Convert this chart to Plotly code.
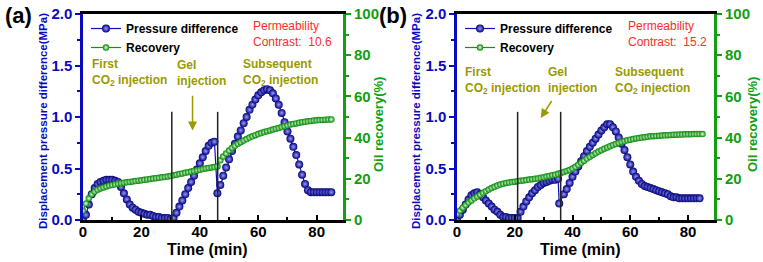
import plotly.graph_objects as go

# ---------------- data ----------------
time_a_p = [0,1,2,3,4,5,6,7,8,9,10,11,12,13,14,15,16,17,18,19,20,21,22,23,24,25,26,27,28,29,
            30,31,32,33,34,35,36,37,38,39,40,41,42,43,44,45,46,47,48,49,50,51,52,53,54,55,56,57,58,59,
            60,61,62,63,64,65,66,67,68,69,70,71,72,73,74,75,76,77,78,79,80,81,82,83,84,85]
pressure_a = [0.00,0.05,0.15,0.25,0.31,0.35,0.37,0.38,0.39,0.39,0.39,0.38,0.37,0.32,0.26,0.20,0.15,0.12,0.10,0.08,
              0.07,0.06,0.05,0.05,0.04,0.03,0.03,0.02,0.02,0.02,0.01,0.02,0.07,0.13,0.19,0.25,0.31,0.37,0.43,0.49,
              0.55,0.61,0.67,0.72,0.75,0.76,0.26,0.34,0.43,0.51,0.59,0.67,0.74,0.81,0.87,0.94,1.00,1.07,1.12,1.17,
              1.21,1.24,1.26,1.27,1.26,1.23,1.18,1.12,1.04,0.95,0.86,0.79,0.71,0.63,0.54,0.44,0.35,0.29,0.27,0.27,
              0.27,0.27,0.27,0.27,0.27,0.27]
time_a_r = time_a_p
recovery_a = [4.5,8.0,10.5,12.5,13.8,14.7,15.3,15.8,16.3,16.7,17.0,17.3,17.6,17.9,18.1,18.3,18.5,18.7,18.9,19.1,
              19.3,19.5,19.7,19.9,20.1,20.3,20.5,20.7,20.9,21.1,21.4,21.7,22.0,22.3,22.6,22.9,23.2,23.5,23.8,24.1,
              24.4,24.7,25.0,25.3,25.5,25.7,26.0,29.0,30.8,32.3,33.7,35.0,36.0,37.0,37.8,38.6,39.3,40.0,40.6,41.2,
              41.7,42.2,42.7,43.1,43.5,43.9,44.3,44.7,45.1,45.5,45.9,46.3,46.6,46.9,47.2,47.5,47.7,47.9,48.1,48.3,
              48.4,48.5,48.6,48.7,48.8,48.8]

time_b_p = [0,1,2,3,4,5,6,7,8,9,10,11,12,13,14,15,16,17,18,19,20,21,22,23,24,25,26,27,28,29,
            30,31,32,33,34,35,35.4,37,38,39,40,41,42,43,44,45,46,47,48,49,50,51,52,53,54,55,56,57,58,59,
            60,61,62,63,64,65,66,67,68,69,70,71,72,73,74,75,76,77,78,79,80,81,82,83,84,85]
pressure_b = [0.00,0.05,0.10,0.15,0.20,0.24,0.26,0.27,0.25,0.22,0.19,0.16,0.13,0.10,0.08,0.05,0.03,0.03,0.02,0.02,
              0.02,0.02,0.08,0.13,0.18,0.22,0.26,0.29,0.32,0.34,0.36,0.37,0.38,0.39,0.39,0.40,0.16,0.25,0.30,0.36,
              0.42,0.47,0.52,0.57,0.62,0.67,0.71,0.75,0.79,0.83,0.87,0.90,0.93,0.93,0.90,0.86,0.80,0.74,0.68,0.61,
              0.54,0.47,0.42,0.38,0.35,0.33,0.32,0.31,0.30,0.29,0.28,0.27,0.26,0.25,0.23,0.22,0.22,0.21,0.21,0.21,
              0.21,0.21,0.21,0.21,0.21]
time_b_r = time_a_p
recovery_b = [3.0,4.5,6.0,7.3,8.5,9.5,10.5,11.4,12.3,13.2,14.0,14.8,15.5,16.1,16.7,17.2,17.6,18.0,18.2,18.4,
              18.6,18.8,19.0,19.2,19.4,19.6,19.8,20.0,20.2,20.5,20.8,21.1,21.4,21.7,22.0,22.4,22.8,23.3,23.8,24.3,
              25.0,25.8,26.8,27.8,28.8,29.8,30.7,31.6,32.4,33.2,33.9,34.6,35.2,35.8,36.4,36.9,37.4,37.9,38.3,38.7,
              39.0,39.3,39.6,39.8,40.0,40.2,40.4,40.6,40.7,40.8,40.9,41.0,41.1,41.2,41.3,41.4,41.4,41.5,41.5,41.6,
              41.6,41.6,41.7,41.7,41.7,41.7]

gel_times_a = [30.4, 46.1]
gel_times_b = [21.0, 35.9]
contrast_a = "10.6"
contrast_b = "15.2"
x_ticks = [0, 20, 40, 60, 80]

# ---------------- style ----------------
FONT = "Liberation Sans, Arial, sans-serif"
BLUE = "#1010b4"
BLUE_AX = "#0a0ac0"
GREEN = "#0b960b"
GREEN_AX = "#10a010"
OLIVE = "#9a9a00"
RED = "#ff2b2b"
W, H = 763, 262

def px(xp):
    return xp / W

def py(yp):
    return 1 - yp / H

fig = go.Figure()

panels = [
    dict(tp=time_a_p, p=pressure_a, tr=time_a_r, r=recovery_a, x="x", y="y", y2="y2", leg="legend"),
    dict(tp=time_b_p, p=pressure_b, tr=time_b_r, r=recovery_b, x="x2", y="y3", y2="y4", leg="legend2"),
]
for pn in panels:
    fig.add_trace(go.Scatter(
        x=pn["tp"], y=pn["p"], xaxis=pn["x"], yaxis=pn["y"], mode="lines+markers",
        name="Pressure difference", legend=pn["leg"],
        line=dict(color=BLUE, width=1.2),
        marker=dict(size=8, color="#00007a", line=dict(width=0),
                    gradient=dict(type="radial", color="#9a9aff")),
    ))
    fig.add_trace(go.Scatter(
        x=pn["tr"], y=pn["r"], xaxis=pn["x"], yaxis=pn["y2"], mode="lines+markers",
        name="Recovery", legend=pn["leg"],
        line=dict(color=GREEN, width=1.2),
        marker=dict(size=6.5, color="#008600", line=dict(width=0),
                    gradient=dict(type="radial", color="#e6ffe6")),
    ))

x_doms = [[px(83), px(343)], [px(457), px(714)]]
y_dom = [py(220), py(14)]

def xax(dom, anchor):
    return dict(domain=dom, anchor=anchor, range=[0, 89], tickvals=x_ticks, automargin=False,
                ticks="inside", ticklen=5, tickwidth=2, tickcolor="black", ticklabelstandoff=-4,
                minor=dict(dtick=10, tick0=0, ticks="inside", ticklen=3, tickwidth=2, tickcolor="black"),
                showline=True, linecolor="black", linewidth=2.5, mirror=True,
                showgrid=False, zeroline=False,
                tickfont=dict(family=FONT, size=15, color="black", weight="bold"))

def ylax(dom, anchor):
    return dict(domain=dom, anchor=anchor, range=[0, 2], dtick=0.5, tick0=0, tickformat=".1f",
                automargin=False,
                ticks="outside", ticklen=5, tickwidth=2, tickcolor=BLUE_AX,
                minor=dict(dtick=0.25, tick0=0, ticks="outside", ticklen=3, tickwidth=2, tickcolor=BLUE_AX),
                showline=True, linecolor=BLUE_AX, linewidth=2.5, showgrid=False, zeroline=False,
                tickfont=dict(family=FONT, size=15, color=BLUE_AX, weight="bold"))

def yrax(anchor, over):
    return dict(anchor=anchor, overlaying=over, side="right", range=[0, 100], dtick=20, tick0=0,
                automargin=False,
                ticks="outside", ticklen=5, tickwidth=2, tickcolor=GREEN_AX,
                minor=dict(dtick=10, tick0=0, ticks="outside", ticklen=3, tickwidth=2, tickcolor=GREEN_AX),
                showline=True, linecolor=GREEN_AX, linewidth=3, showgrid=False, zeroline=False,
                tickfont=dict(family=FONT, size=15, color=GREEN_AX, weight="bold"))

legend_common = dict(bgcolor="rgba(0,0,0,0)", borderwidth=0, xanchor="left", yanchor="top",
                     font=dict(family=FONT, size=12, color="black", weight="bold"),
                     tracegroupgap=0, itemwidth=30)

fig.update_layout(
    width=W, height=H, margin=dict(l=0, r=0, t=0, b=0, autoexpand=False),
    paper_bgcolor="white", plot_bgcolor="white",
    font=dict(family=FONT),
    xaxis=xax(x_doms[0], "y"), yaxis=ylax(y_dom, "x"), yaxis2=yrax("x", "y"),
    xaxis2=xax(x_doms[1], "y3"), yaxis3=ylax(y_dom, "x2"), yaxis4=yrax("x2", "y3"),
    legend=dict(x=px(86), y=py(14), **legend_common),
    legend2=dict(x=px(460), y=py(14), **legend_common),
)

shapes = []
for xa, ya, times in [("x", "y", gel_times_a), ("x2", "y3", gel_times_b)]:
    for t in times:
        shapes.append(dict(type="line", xref=xa, yref=ya, x0=t, x1=t, y0=0, y1=1.05,
                           line=dict(color="#222222", width=1.5)))
fig.update_layout(shapes=shapes)

ann = []
def txt(text, xp, yp, color, size=12, bold=True, xanchor="left", angle=0, align="left"):
    ann.append(dict(text=text, x=px(xp), y=py(yp), xref="paper", yref="paper",
                    xanchor=xanchor, yanchor="middle", showarrow=False, align=align,
                    textangle=angle,
                    font=dict(family=FONT, size=size, color=color, weight="bold" if bold else "normal")))

# panel labels
txt("(a)", 18, 16, "black", size=22, xanchor="center")
txt("(b)", 393, 16, "black", size=22, xanchor="center")
# axis titles
for xc in (43, 416):
    txt("Displacement pressure difference(MPa)", xc, 121, BLUE_AX, size=11.5, xanchor="center", angle=-90, align="center")
for xc in (378, 752):
    txt("Oil recovery(%)", xc, 125, GREEN_AX, size=13, xanchor="center", angle=-90, align="center")
txt("Time (min)", 207, 249, "black", size=16, xanchor="center", align="center")
txt("Time (min)", 580, 249, "black", size=16, xanchor="center", align="center")
# permeability contrast
txt("Permeability<br>Contrast:  " + contrast_a, 251, 34, RED, size=12, bold=False)
txt("Permeability<br>Contrast:  " + contrast_b, 626, 34, RED, size=12, bold=False)
# stage labels
txt("First<br>CO<sub>2</sub> injection", 90, 73, OLIVE)
txt("Gel<br>injection", 175, 73, OLIVE)
txt("Subsequent<br>CO<sub>2</sub> injection", 241, 72, OLIVE)
txt("First<br>CO<sub>2</sub> injection", 463, 80, OLIVE)
txt("Gel<br>injection", 546, 80, OLIVE)
txt("Subsequent<br>CO<sub>2</sub> injection", 613, 80, OLIVE)

# arrows
ann.append(dict(x=37.5, y=0.87, ax=37.5, ay=1.22, xref="x", yref="y", axref="x", ayref="y",
                text="", showarrow=True, arrowhead=2, arrowsize=1.2, arrowwidth=1.5, arrowcolor=OLIVE))
ann.append(dict(x=29.0, y=0.99, ax=33.1, ay=1.17, xref="x2", yref="y3", axref="x2", ayref="y3",
                text="", showarrow=True, arrowhead=2, arrowsize=1.2, arrowwidth=1.5, arrowcolor=OLIVE))
fig.update_layout(annotations=ann)

fig.write_html("out.html")
